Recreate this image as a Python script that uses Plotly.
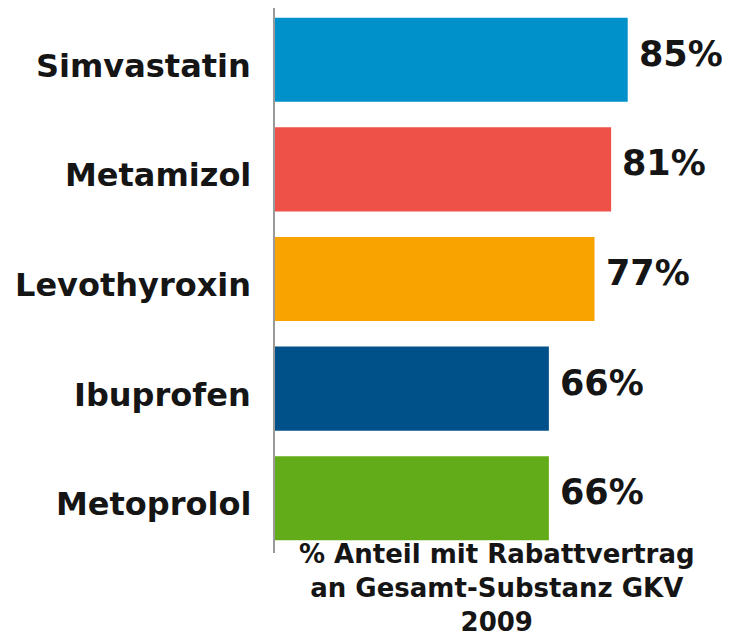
import plotly.graph_objects as go

categories = ["Simvastatin", "Metamizol", "Levothyroxin", "Ibuprofen", "Metoprolol"]
values = [85, 81, 77, 66, 66]
value_labels = ["85%", "81%", "77%", "66%", "66%"]
colors = ["#0091CA", "#EE5148", "#F9A300", "#00508A", "#62AC19"]
axis_title = "% Anteil mit Rabattvertrag<br>an Gesamt-Substanz GKV<br>2009"

FONT = "DejaVu Sans"
TXT = "#151515"

fig = go.Figure()
fig.add_trace(go.Bar(
    y=categories, x=values, orientation="h",
    marker=dict(color=colors, line=dict(width=0)),
    hoverinfo="skip",
))

for c, v, t in zip(categories, values, value_labels):
    fig.add_annotation(
        x=v, y=c, xref="x", yref="y", text=t, showarrow=False,
        xanchor="left", yanchor="middle", xshift=9, yshift=6,
        font=dict(family=FONT, size=35, color=TXT, weight="bold"),
    )
    fig.add_annotation(
        x=0, y=c, xref="paper", yref="y", text=c, showarrow=False,
        xanchor="right", yanchor="middle", xshift=-22, yshift=-6,
        font=dict(family=FONT, size=32, color=TXT, weight="bold"),
    )

fig.add_annotation(
    x=0.5, y=-0.068, xref="paper", yref="paper", text=axis_title,
    showarrow=False, xanchor="center", yanchor="middle", yshift=2,
    borderpad=0,
    font=dict(family=FONT, size=26, color=TXT, weight="bold"),
)

fig.update_layout(
    width=722, height=627,
    margin=dict(l=267, r=11, t=0, b=82),
    paper_bgcolor="white", plot_bgcolor="white",
    bargap=0.233, showlegend=False,
    font=dict(family=FONT, color=TXT),
)
fig.update_xaxes(range=[0, 107], visible=False, showgrid=False, zeroline=False)
fig.update_yaxes(
    range=[4.5, -0.4726], showgrid=False, zeroline=False,
    showline=True, linecolor="#9a9a9a", linewidth=1.5,
    ticks="", showticklabels=False,
)

fig.write_html("out.html")
